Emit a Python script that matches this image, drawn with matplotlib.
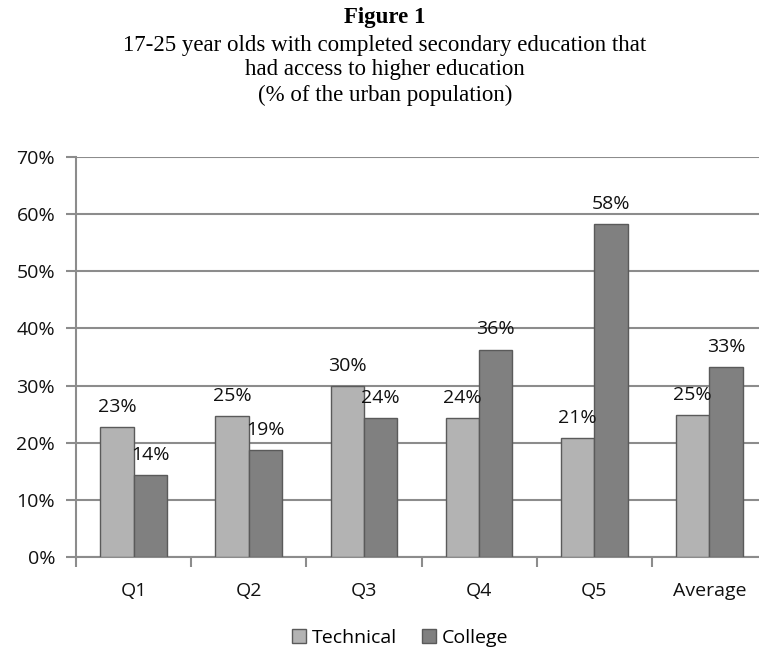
import matplotlib
matplotlib.use("Agg")
import matplotlib.pyplot as plt
import numpy as np
from matplotlib.ticker import PercentFormatter, FixedLocator, NullFormatter

categories = ["Q1", "Q2", "Q3", "Q4", "Q5", "Average"]
technical = [22.8, 24.6, 29.9, 24.3, 20.8, 24.9]
college = [14.4, 18.7, 24.3, 36.3, 58.3, 33.3]
series_names = ["Technical", "College"]
yticks = [0, 10, 20, 30, 40, 50, 60, 70]

fig = plt.figure(figsize=(7.59, 6.51), dpi=100)
W, H = 759, 651
# axes box in pixel coordinates (left, right, top edge, bottom edge)
x0, x1, ytop, ybot = 76, 767, 157, 557
ax = fig.add_axes([x0 / W, 1 - ybot / H, (x1 - x0) / W, (ybot - ytop) / H])

font = "Open Sans"
fs = 14
grid_c = "#8c8c8c"
edge_c = "#5a5a5a"

x = np.arange(len(categories))
bw = 0.29
b1 = ax.bar(x - bw / 2, technical, bw, color="#b3b3b3", edgecolor=edge_c, linewidth=1.0,
            label=series_names[0], zorder=3)
b2 = ax.bar(x + bw / 2, college, bw, color="#808080", edgecolor=edge_c, linewidth=1.0,
            label=series_names[1], zorder=3)

for bars, vals in ((b1, technical), (b2, college)):
    for rect, v in zip(bars, vals):
        ax.annotate(f"{v:.0f}%", (rect.get_x() + rect.get_width() / 2, v),
                    xytext=(0, 8), textcoords="offset points", ha="center", va="bottom",
                    fontsize=fs, family=font, color="#111111", zorder=4)

ax.set_xlim(-0.5, len(categories) - 0.5)
ax.set_ylim(0, 70)
ax.set_yticks(yticks)
ax.yaxis.set_major_formatter(PercentFormatter(decimals=0))
ax.yaxis.grid(True, color=grid_c, linewidth=1.5, zorder=0)
ax.set_axisbelow(True)

# category boundary ticks, labels at centers
ax.xaxis.set_major_locator(FixedLocator(np.arange(len(categories) + 1) - 0.5))
ax.xaxis.set_major_formatter(NullFormatter())
ax.xaxis.set_minor_locator(FixedLocator(x))
ax.set_xticklabels(categories, minor=True)
ax.tick_params(axis="x", which="minor", length=0, pad=18, labelsize=fs)
ax.tick_params(axis="x", which="major", length=7, width=1.5, color=grid_c, direction="out")
ax.tick_params(axis="y", length=7, width=1.5, color=grid_c, direction="out", pad=8, labelsize=fs)
for lbl in ax.get_xticklabels(minor=True) + ax.get_yticklabels():
    lbl.set_family(font)
    lbl.set_color("#111111")

for side in ("top", "right"):
    ax.spines[side].set_visible(False)
for side in ("left", "bottom"):
    ax.spines[side].set_color(grid_c)
    ax.spines[side].set_linewidth(1.5)

leg = fig.legend(handles=[b1, b2], loc="center", bbox_to_anchor=(400 / W, 1 - 638 / H),
                 ncol=2, frameon=False, handlelength=0.7, handleheight=0.7,
                 handletextpad=0.3, columnspacing=1.3,
                 prop={"family": font, "size": fs})

cx = 385 / W
serif = "Liberation Serif"
tfs = 16.5
fig.text(cx, 1 - 18 / H, "Figure 1", ha="center", va="center", fontsize=tfs,
         fontweight="bold", family=serif)
fig.text(cx, 1 - 45 / H, "17-25 year olds with completed secondary education that",
         ha="center", va="center", fontsize=tfs, family=serif)
fig.text(cx, 1 - 70 / H, "had access to higher education",
         ha="center", va="center", fontsize=tfs, family=serif)
fig.text(cx, 1 - 95 / H, "(% of the urban population)",
         ha="center", va="center", fontsize=tfs, family=serif)

fig.savefig("out.png", dpi=100)
